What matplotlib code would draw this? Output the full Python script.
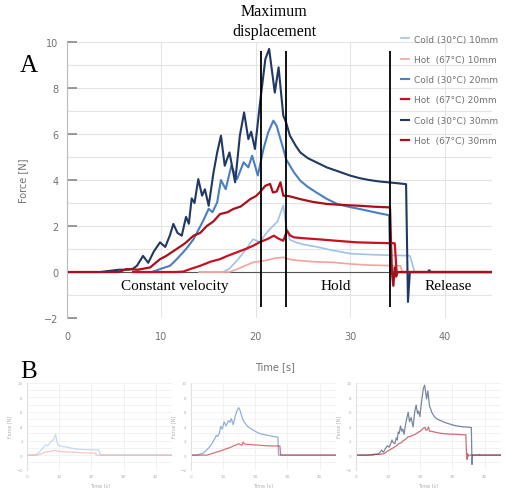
import numpy as np
import matplotlib.pyplot as plt

# ------------------------------------------
# data (aligned time axis of panel A)
# ------------------------------------------
labels = ['Cold (30°C) 10mm', 'Hot  (67°C) 10mm',
          'Cold (30°C) 20mm', 'Hot  (67°C) 20mm',
          'Cold (30°C) 30mm', 'Hot  (67°C) 30mm']
colors = ['#9dc3e6', '#f4a29c', '#4a7fc1', '#c8101e', '#1f3864', '#a8101c']
widths = [1.2, 1.2, 1.5, 1.6, 1.5, 1.6]

# shift used to align each depth in panel A (panel B shows raw time)
shift_10 = 14.0
shift_20 = 7.0
shift_30 = 0.0

t_cold10 = [14.0, 16.5, 17.2, 18.0, 18.8, 19.7, 20.4, 21.2, 21.8, 22.3, 22.9, 23.2, 23.6,
            24.2, 25.0, 26.4, 28.0, 30.0, 32.0, 34.0, 36.3, 36.6, 36.8, 59.0]
f_cold10 = [0.0, 0.0, 0.15, 0.5, 0.9, 1.43, 1.3, 1.74, 2.0, 2.2, 2.9, 2.0, 1.4,
            1.3, 1.2, 1.1, 0.95, 0.8, 0.76, 0.73, 0.71, 0.3, 0.0, 0.0]

t_hot10 = [14.0, 17.2, 18.0, 19.0, 19.7, 21.0, 22.0, 22.9, 23.3, 24.0, 26.0, 28.2,
           30.0, 32.0, 35.3, 35.5, 59.0]
f_hot10 = [0.0, 0.0, 0.12, 0.3, 0.42, 0.5, 0.6, 0.64, 0.58, 0.52, 0.45, 0.42,
           0.35, 0.3, 0.27, 0.0, 0.0]

t_cold20 = [7.0, 9.0, 10.0, 10.9, 11.6, 12.3, 12.8, 13.4, 14.0, 14.5, 15.0, 15.4, 15.9,
            16.3, 16.8, 17.4, 18.0, 18.7, 19.2, 19.6, 20.2, 20.8, 21.3, 21.85, 22.2,
            22.9, 23.2, 24.0, 24.7, 25.5, 26.4, 27.5, 28.6, 30.0, 31.0, 32.0, 33.0,
            34.1, 34.25, 52.0]
f_cold20 = [0.0, 0.0, 0.15, 0.27, 0.55, 0.86, 1.1, 1.43, 1.9, 2.3, 2.75, 2.6, 3.03,
            4.0, 3.6, 4.62, 4.04, 4.77, 4.55, 5.06, 4.2, 5.35, 6.07, 6.58, 6.35,
            5.35, 4.9, 4.35, 3.97, 3.7, 3.46, 3.18, 2.96, 2.82, 2.74, 2.65, 2.56,
            2.47, 0.0, 0.0]

t_hot20 = [7.0, 11.5, 12.3, 13.2, 14.1, 15.2, 16.2, 17.1, 18.0, 18.9, 19.7, 20.4, 21.2,
           21.9, 22.4, 22.9, 23.3, 23.6, 24.0, 25.0, 26.4, 28.5, 30.7, 32.5, 34.7,
           34.9, 52.0]
f_hot20 = [0.0, 0.0, 0.02, 0.15, 0.27, 0.45, 0.56, 0.72, 0.86, 1.0, 1.14, 1.3, 1.43,
           1.58, 1.45, 1.36, 1.8, 1.6, 1.51, 1.47, 1.43, 1.36, 1.29, 1.27, 1.25,
           0.0, 0.0]

t_cold30 = [0.0, 3.5, 4.5, 5.5, 6.5, 7.0, 7.4, 8.05, 8.6, 9.2, 9.85, 10.4, 10.9, 11.26,
            11.7, 12.15, 12.6, 12.9, 13.2, 13.5, 13.9, 14.3, 14.6, 15.0, 15.5, 15.9,
            16.3, 16.7, 17.2, 17.8, 18.3, 18.75, 19.2, 19.5, 19.9, 20.4, 21.0, 21.4,
            22.0, 22.4, 22.9, 23.2, 23.6, 24.2, 24.7, 25.5, 26.4, 27.5, 28.9, 30.0,
            31.0, 32.0, 33.0, 34.0, 35.0, 35.9, 36.1, 36.3, 38.2, 38.35, 38.5, 45.0]
f_cold30 = [0.0, 0.0, 0.05, 0.1, 0.1, 0.15, 0.27, 0.7, 0.4, 0.9, 1.29, 1.09, 1.6, 2.09,
            1.7, 1.58, 2.4, 2.1, 3.2, 3.0, 4.04, 3.32, 3.6, 2.88, 4.3, 5.2,
            5.93, 4.62, 5.2, 3.9, 5.93, 6.94, 5.78, 6.1, 5.35, 7.23, 9.26, 9.7,
            7.8, 8.9, 6.8, 6.5, 5.93, 5.5, 5.2, 4.95, 4.77, 4.55, 4.35, 4.19,
            4.08, 4.0, 3.94, 3.9, 3.86, 3.82, -1.3, 0.0, 0.0, 0.08, 0.0, 0.0]

t_hot30 = [0.0, 5.5, 6.3, 7.5, 8.8, 9.85, 10.5, 11.6, 12.5, 13.4, 14.1, 14.8, 15.5,
           16.2, 17.0, 17.6, 18.4, 19.4, 20.0, 20.4, 21.0, 21.5, 21.8, 22.2, 22.6,
           22.9, 23.5, 24.7, 26.0, 27.5, 29.0, 31.0, 32.5, 34.2, 34.4, 34.55, 34.7,
           34.85, 35.0, 45.0]
f_hot30 = [0.0, 0.0, 0.13, 0.1, 0.2, 0.56, 0.7, 1.0, 1.25, 1.58, 1.7, 2.0, 2.2,
           2.52, 2.6, 2.74, 2.85, 3.17, 3.3, 3.46, 3.75, 3.83, 3.46, 3.5, 3.9,
           3.32, 3.3, 3.17, 3.05, 2.96, 2.92, 2.88, 2.84, 2.81, 0.0, -0.6, 0.2,
           -0.2, 0.0, 0.0]

series_t = [t_cold10, t_hot10, t_cold20, t_hot20, t_cold30, t_hot30]
series_f = [f_cold10, f_hot10, f_cold20, f_hot20, f_cold30, f_hot30]
shifts = [shift_10, shift_10, shift_20, shift_20, shift_30, shift_30]

# phase boundaries (max displacement start/end, release)
phase_lines = [20.5, 23.2, 34.2]
phase_names = ['Constant velocity', 'Hold', 'Release']
phase_x = [11.4, 28.4, 40.4]

serif = 'Liberation Serif'
grey = '#707070'

# ------------------------------------------
# figure
# ------------------------------------------
fig = plt.figure(figsize=(5.05, 4.89), dpi=100)
ax = fig.add_axes([0.1327, 0.3476, 0.8416, 0.5644])

for t, f, lab, c, lw in zip(series_t, series_f, labels, colors, widths):
    ax.plot(t, f, color=c, lw=lw, label=lab)

ax.axhline(0, color='#555555', lw=0.8, zorder=1)
ax.vlines(phase_lines, -1.5, 9.6, color='black', lw=1.3, zorder=5)
for name, x in zip(phase_names, phase_x):
    ax.text(x, -0.6, name, ha='center', va='center', fontsize=11, family=serif)

ax.set_xlim(0, 45)
ax.set_ylim(-2, 10)
ax.set_xticks([0, 10, 20, 30, 40])
ax.set_yticks([-2, 0, 2, 4, 6, 8, 10])
ax.set_yticks(np.arange(-2, 11, 1), minor=True)
ax.grid(True, which='both', color='#e4e4e4', lw=0.8)
ax.set_axisbelow(True)
ax.tick_params(axis='x', length=0, pad=9, labelsize=7, labelcolor=grey)
ax.tick_params(axis='y', which='major', direction='in', length=7, width=1.2,
               color='#888888', pad=6, labelsize=7, labelcolor=grey)
ax.tick_params(axis='y', which='minor', length=0)
for s in ['top', 'right', 'bottom']:
    ax.spines[s].set_visible(False)
ax.spines['left'].set_color('#bbbbbb')
ax.set_ylabel('Force [N]', fontsize=7, color=grey, labelpad=12)

fig.text(275 / 505, 1 - 367 / 489, 'Time [s]', ha='center', va='center',
         fontsize=7, color=grey)
fig.text(274 / 505, 1 - 22 / 489, 'Maximum\ndisplacement', ha='center', va='center',
         fontsize=11.5, family=serif, linespacing=1.25)
fig.text(20 / 505, 1 - 72 / 489, 'A', fontsize=18, family=serif, va='baseline')
fig.text(20 / 505, 1 - 378 / 489, 'B', fontsize=18, family=serif, va='baseline')

fig.legend(loc='upper left', bbox_to_anchor=(397 / 505, 1 - 32 / 489), frameon=False,
           fontsize=6.5, labelcolor=grey, handlelength=0.9, handletextpad=0.6,
           labelspacing=1.25, borderaxespad=0)

# ------------------------------------------
# panel B: raw recordings per depth
# ------------------------------------------
b_lefts = [0.0535, 0.3776, 0.7044]
b_pairs = [(0, 1), (2, 3), (4, 5)]
for left, pair in zip(b_lefts, b_pairs):
    bx = fig.add_axes([left, 0.0378, 0.287, 0.177])
    for i in pair:
        t = np.array(series_t[i]) - shifts[i]
        bx.plot(t, series_f[i], color=colors[i], lw=0.9, alpha=0.6)
    bx.set_xlim(0, 45)
    bx.set_ylim(-2, 10)
    bx.set_xticks([0, 10, 20, 30, 40])
    bx.set_yticks([-2, 0, 2, 4, 6, 8, 10])
    bx.set_yticks(np.arange(-2, 11, 1), minor=True)
    bx.grid(True, which='both', color='#f0f0f0', lw=0.6)
    bx.set_axisbelow(True)
    bx.tick_params(axis='both', which='both', length=0, labelsize=3, labelcolor='#b0b0b0', pad=3)
    for s in ['top', 'right', 'bottom']:
        bx.spines[s].set_visible(False)
    bx.spines['left'].set_color('#e0e0e0')
    bx.set_xlabel('Time [s]', fontsize=3.5, color='#b0b0b0', labelpad=3)
    bx.set_ylabel('Force [N]', fontsize=3.5, color='#b0b0b0', labelpad=3)

fig.savefig('out.png', dpi=100)
